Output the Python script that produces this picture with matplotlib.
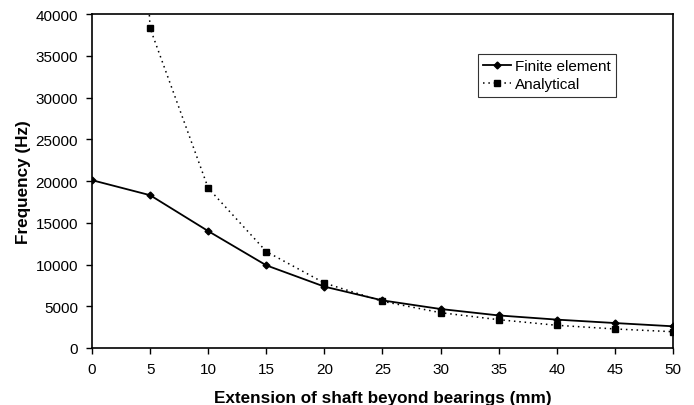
#!/usr/bin/env python3

import matplotlib
matplotlib.use("Agg")
import matplotlib.pyplot as plt

plt.rcParams['font.family'] = ['Liberation Sans', 'DejaVu Sans']

# Data
extension = [0, 5, 10, 15, 20, 25, 30, 35, 40, 45, 50]
finite_element = [20100, 18300, 14000, 9900, 7350, 5700, 4670, 3900, 3400, 2990, 2600]
analytical = [160000, 38300, 19150, 11550, 7780, 5590, 4230, 3390, 2720, 2280, 1950]

fig = plt.figure(figsize=(6.94, 4.06), dpi=100)
ax = fig.add_axes([0.1326, 0.1404, 0.8371, 0.8226])

ax.plot(extension, finite_element, color='black', linestyle='-', linewidth=1.3,
        marker='D', markersize=3.5, label='Finite element')
ax.plot(extension, analytical, color='black', linestyle=(0, (1, 2.5)), linewidth=1.1,
        marker='s', markersize=4.5, label='Analytical')

ax.set_xlim(0, 50)
ax.set_ylim(0, 40000)
ax.set_xticks(range(0, 51, 5))
ax.set_yticks(range(0, 40001, 5000))
ax.tick_params(direction='out', length=4, width=1, labelsize=11, pad=6)

for side in ['left', 'bottom', 'top', 'right']:
    ax.spines[side].set_linewidth(1.2)

ax.set_xlabel("Extension of shaft beyond bearings (mm)", fontsize=12.3,
              fontweight='bold', labelpad=10)
ax.set_ylabel("Frequency (Hz)", fontsize=12.3, fontweight='bold', labelpad=3)

leg = ax.legend(loc='upper left', bbox_to_anchor=(0.664, 0.88), fontsize=11,
                frameon=True, fancybox=False, handlelength=1.8,
                handletextpad=0.3, borderpad=0.35, labelspacing=0.25,
                borderaxespad=0)
leg.get_frame().set_edgecolor('black')
leg.get_frame().set_linewidth(0.8)

fig.savefig("out.png", dpi=100)
